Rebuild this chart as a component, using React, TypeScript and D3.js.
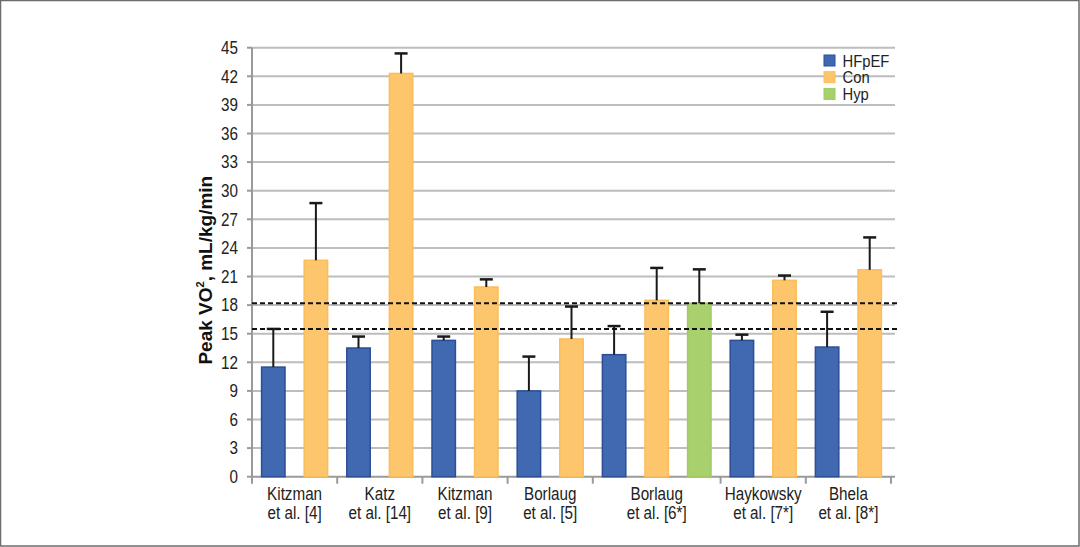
import React from "react";
import * as d3 from "d3";

const studyLine1 = ["Kitzman", "Katz", "Kitzman", "Borlaug", "Borlaug", "Haykowsky", "Bhela"];
const studyLine2 = ["et al. [4]", "et al. [14]", "et al. [9]", "et al. [5]", "et al. [6*]", "et al. [7*]", "et al. [8*]"];
const seriesNames = ["HFpEF", "Con", "Hyp"];
const hfpefValues = [11.5, 13.5, 14.3, 9.0, 12.8, 14.3, 13.6];
const hfpefSD = [4.0, 1.2, 0.4, 3.6, 3.0, 0.6, 3.7];
const conValues = [22.7, 42.3, 19.9, 14.45, 18.5, 20.6, 21.7];
const conSD = [6.0, 2.1, 0.8, 3.4, 3.4, 0.5, 3.4];
const hypValues: (number | null)[] = [null, null, null, null, 18.2, null, null];
const hypSD: (number | null)[] = [null, null, null, null, 3.55, null, null];
const thresholds = [18.2, 15.5];
const yTicks = d3.range(0, 46, 3);

const colors: Record<string, { fill: string; stroke: string }> = {
  HFpEF: { fill: "#4169b1", stroke: "#2b4f96" },
  Con: { fill: "#fec66c", stroke: "#fbbd5a" },
  Hyp: { fill: "#a8d06c", stroke: "#a0ca62" },
};

type Slot = { id: string; group: number; series: string; value: number; sd: number };

const slots: Slot[] = [];
studyLine1.forEach((_, i) => {
  slots.push({ id: `${i}-HFpEF`, group: i, series: "HFpEF", value: hfpefValues[i], sd: hfpefSD[i] });
  slots.push({ id: `${i}-Con`, group: i, series: "Con", value: conValues[i], sd: conSD[i] });
  if (hypValues[i] != null) {
    slots.push({ id: `${i}-Hyp`, group: i, series: "Hyp", value: hypValues[i] as number, sd: hypSD[i] as number });
  }
});

const W = 1080;
const H = 547;
const left = 252;
const right = 891;
const top = 47.7;
const bottom = 476.7;
const font = "'Liberation Sans', Arial, sans-serif";
const SX = 0.87;

function NText(props: { x: number; y: number; anchor?: string; size: number; children: React.ReactNode; dy?: string }) {
  return (
    <g transform={`translate(${props.x},${props.y}) scale(${SX},1)`}>
      <text x={0} y={0} dy={props.dy} textAnchor={props.anchor || "start"} fontFamily={font} fontSize={props.size} fill="#222">
        {props.children}
      </text>
    </g>
  );
}

export default function App() {
  const x = d3.scaleBand<string>().domain(slots.map((s) => s.id)).range([left, right]).padding(0);
  const y = d3.scaleLinear().domain([0, 45]).range([bottom, top]);
  const step = x.step();
  const barW = step * 0.55;

  const groupStarts = studyLine1.map((_, i) => x(slots.find((s) => s.group === i)!.id)!);
  const groupEnds = studyLine1.map((_, i) => {
    const gs = slots.filter((s) => s.group === i);
    return x(gs[gs.length - 1].id)! + step;
  });
  const boundaries = [...groupStarts, right];

  return (
    <div style={{ position: "absolute", left: 0, top: 0 }}>
      <svg width={W} height={H} style={{ display: "block", background: "#fff" }}>
        <rect x={0.5} y={0.5} width={W - 1.5} height={H - 1.5} fill="#fff" stroke="#6b6b6b" strokeWidth={1.5} />
        {yTicks.filter((t) => t > 0).map((t) => (
          <line key={t} x1={left} x2={895} y1={y(t)} y2={y(t)} stroke="#bdbdbd" strokeWidth={2} />
        ))}
        <line x1={left} x2={left} y1={top} y2={bottom + 6} stroke="#9a9a9a" strokeWidth={2} />
        {yTicks.map((t) => (
          <g key={t}>
            <line x1={left - 5} x2={left} y1={y(t)} y2={y(t)} stroke="#9a9a9a" strokeWidth={2} />
            <NText x={238} y={y(t)} dy="0.36em" anchor="end" size={17.5}>
              {t}
            </NText>
          </g>
        ))}
        <line x1={left} x2={895} y1={bottom} y2={bottom} stroke="#9a9a9a" strokeWidth={2} />
        {boundaries.map((b, i) => (
          <line key={i} x1={b} x2={b} y1={bottom} y2={bottom + 7} stroke="#9a9a9a" strokeWidth={2} />
        ))}
        {slots.map((s) => {
          const cx = x(s.id)! + step / 2;
          const c = colors[s.series];
          return (
            <g key={s.id}>
              <rect x={cx - barW / 2} y={y(s.value)} width={barW} height={bottom - y(s.value)} fill={c.fill} stroke={c.stroke} strokeWidth={1.5} />
              <line x1={cx} x2={cx} y1={y(s.value)} y2={y(s.value + s.sd)} stroke="#1a1a1a" strokeWidth={2} />
              <line x1={cx - 6.5} x2={cx + 6.5} y1={y(s.value + s.sd)} y2={y(s.value + s.sd)} stroke="#1a1a1a" strokeWidth={2.5} />
            </g>
          );
        })}
        {thresholds.map((t) => (
          <line key={t} x1={left} x2={897} y1={y(t)} y2={y(t)} stroke="#111" strokeWidth={2} strokeDasharray="5,3" />
        ))}
        {studyLine1.map((l1, i) => {
          const cx = (groupStarts[i] + groupEnds[i]) / 2;
          return (
            <g key={i}>
              <NText x={cx} y={500} anchor="middle" size={17.5}>{l1}</NText>
              <NText x={cx} y={519} anchor="middle" size={17.5}>{studyLine2[i]}</NText>
            </g>
          );
        })}
        <text
          transform={`translate(212,${(top + bottom) / 2 + 8}) rotate(-90)`}
          textAnchor="middle"
          fontFamily={font}
          fontWeight="bold"
          fontSize={19}
          fill="#111"
        >
          Peak VO<tspan fontSize={11} dy={-8}>2</tspan><tspan dy={8}>, mL/kg/min</tspan>
        </text>
        {seriesNames.map((n, i) => (
          <g key={n} transform={`translate(824,${55 + i * 16.7})`}>
            <rect x={0} y={0} width={11} height={11} fill={colors[n].fill} stroke={colors[n].stroke} strokeWidth={1} />
            <NText x={18.5} y={5.5} dy="0.36em" size={17}>
              {n}
            </NText>
          </g>
        ))}
      </svg>
    </div>
  );
}
